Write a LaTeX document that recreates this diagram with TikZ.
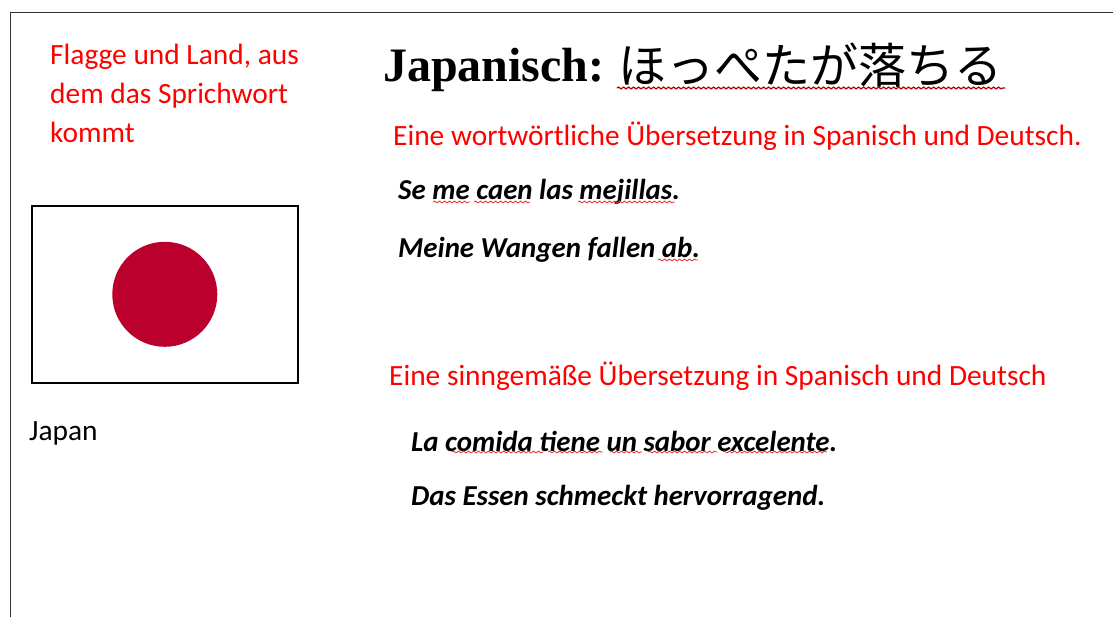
\documentclass[tikz,border=0pt]{standalone}
\usepackage{fontspec}
\usetikzlibrary{decorations.pathmorphing}
\setmainfont{Carlito}
\newfontfamily\serifb{Liberation Serif}
\newfontfamily\cjk{Noto Sans CJK JP}
\definecolor{redtxt}{RGB}{255,0,0}
\definecolor{flagred}{RGB}{188,0,45}
\definecolor{wavy}{RGB}{235,60,60}
\tikzset{
  x=1pt,y=-1pt,
  red label/.style={anchor=west,inner sep=0pt,text=redtxt,font=\fontsize{29.4}{34}\selectfont},
  script/.style={anchor=west,inner sep=0pt,text=black,font=\itshape\bfseries\fontsize{28.9}{34}\selectfont},
  squiggle/.style={draw=wavy,line width=0.9pt,decorate,decoration={snake,amplitude=0.9pt,segment length=5pt}}
}
\begin{document}
\begin{tikzpicture}
\useasboundingbox (0,0) rectangle (1113,617);
\fill[white] (0,0) rectangle (1113,617);
\coordinate (fa) at (10.5,617); \coordinate (fb) at (10.5,13); \coordinate (fc) at (1113,13);
\draw[line width=1pt,black!80] (fa) -- (fb) -- (fc);
\node[red label] (l1) at (50,57) {Flagge und Land, aus};
\node[red label] (l2) at (50,96) {dem das Sprichwort};
\node[red label] (l3) at (50,132) {kommt};
\node[draw=black,line width=1.6pt,fill=white,minimum width=266pt,minimum height=177pt,inner sep=0pt,anchor=north west] (flag) at (31,205) {};
\node[circle,fill=flagred,minimum size=105pt,inner sep=0pt] (sun) at (flag.center) {};
\node[anchor=west,inner sep=0pt,font=\fontsize{29.4}{34}\selectfont] (land) at (29,433) {Japan};
\node[anchor=west,inner sep=0pt,font=\serifb\bfseries\fontsize{48}{54}\selectfont] (t1) at (383,70) {Japanisch:};
\node[anchor=west,inner sep=0pt,font=\cjk\fontsize{48}{54}\selectfont] (t2) at (618,65) {ほっぺたが落ちる};
\draw[squiggle,draw=red!70!black,line width=1.2pt] (617,88) -- (1005,88);
\node[red label] (h1) at (393,136) {Eine wortwörtliche Übersetzung in Spanisch und Deutsch.};
\node[script] (s1) at (398,192) {Se me caen las mejillas.};
\node[script] (s2) at (398,250) {Meine Wangen fallen ab.};
\node[red label] (h2) at (389,376) {Eine sinngemäße Übersetzung in Spanisch und Deutsch};
\node[script] (s3) at (411,441) {La comida tiene un sabor excelente.};
\node[script] (s4) at (411,498) {Das Essen schmeckt hervorragend.};
\draw[squiggle] (433,202) -- (470,202);
\draw[squiggle] (474,202) -- (530,202);
\draw[squiggle] (578,202) -- (675,202);
\draw[squiggle] (658,260) -- (698,260);
\draw[squiggle] (452,452) -- (543,452);
\draw[squiggle] (548,452) -- (603,452);
\draw[squiggle] (610,452) -- (642,452);
\draw[squiggle] (648,452) -- (717,452);
\draw[squiggle] (723,452) -- (827,452);
\end{tikzpicture}
\end{document}
